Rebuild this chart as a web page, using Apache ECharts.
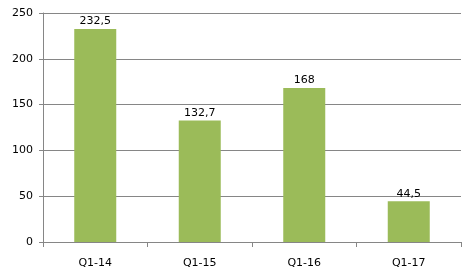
<!DOCTYPE html>
<html><head><meta charset="utf-8">
<script src="https://cdn.jsdelivr.net/npm/echarts@6/dist/echarts.min.js"></script>
<style>html,body{margin:0;padding:0;background:#fff}#c{width:470px;height:280px}</style>
</head><body><div id="c"></div>
<script>
const categories = ['Q1-14', 'Q1-15', 'Q1-16', 'Q1-17'];
const values = [232.5, 132.7, 168, 44.5];
const yTicks = [0, 50, 100, 150, 200, 250];

const chart = echarts.init(document.getElementById('c'), null, {renderer: 'canvas'});
const font = 'DejaVu Sans';
chart.setOption({
  animation: false,
  grid: {left: 43, right: 9, top: 13, bottom: 38},
  xAxis: {
    type: 'category', data: categories,
    axisLine: {lineStyle: {color: '#868686', width: 1}},
    axisTick: {show: true, length: 5, alignWithLabel: false, lineStyle: {color: '#868686'}},
    axisLabel: {color: '#000', fontFamily: font, fontSize: 11, margin: 16}
  },
  yAxis: {
    type: 'value', min: yTicks[0], max: yTicks[yTicks.length - 1], interval: 50,
    axisLine: {show: true, lineStyle: {color: '#868686', width: 1}},
    axisTick: {show: true, length: 4, lineStyle: {color: '#868686'}},
    splitLine: {lineStyle: {color: '#868686', width: 1}},
    axisLabel: {color: '#000', fontFamily: font, fontSize: 11, margin: 10}
  },
  series: [{
    type: 'bar', data: values, barWidth: 42,
    itemStyle: {color: '#9BBB59'},
    label: {
      show: true, position: 'top', distance: 2, color: '#000', fontFamily: font, fontSize: 11,
      formatter: p => String(p.value).replace('.', ',')
    }
  }]
});
</script></body></html>
